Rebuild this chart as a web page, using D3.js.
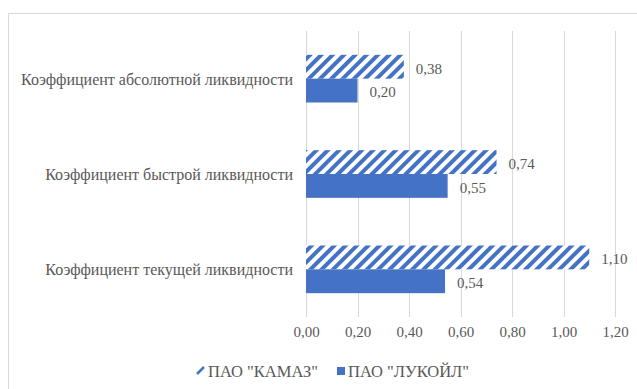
<!DOCTYPE html>
<html>
<head>
<meta charset="utf-8">
<script src="https://cdn.jsdelivr.net/npm/d3@7"></script>
<style>
  body { margin: 0; background: #fff; }
</style>
</head>
<body>
<svg id="chart" width="637" height="389"></svg>
<script>
// categories top to bottom
const categories = [
  'Коэффициент абсолютной ликвидности',
  'Коэффициент быстрой ликвидности',
  'Коэффициент текущей ликвидности'
];
const seriesNames = ['ПАО "КАМАЗ"', 'ПАО "ЛУКОЙЛ"'];
const kamaz = [0.38, 0.74, 1.10];
const lukoil = [0.20, 0.55, 0.54];
const xTicks = [0, 0.2, 0.4, 0.6, 0.8, 1.0, 1.2];

const blue = '#4472c4';
const textColor = '#595959';
const font = '"Liberation Serif"';
const fmt = v => d3.format('.2f')(v).replace('.', ',');

const svg = d3.select('#chart');

// hatch pattern for KAMAZ
const defs = svg.append('defs');
const pat = defs.append('pattern')
  .attr('id', 'hatch')
  .attr('patternUnits', 'userSpaceOnUse')
  .attr('width', 8)
  .attr('height', 8)
  .attr('patternTransform', 'rotate(45)');
pat.append('rect').attr('width', 8).attr('height', 8).attr('fill', '#fff');
pat.append('rect').attr('width', 4).attr('height', 8).attr('fill', blue);

// chart area border (only top and left visible)
svg.append('rect')
  .attr('x', 8.5).attr('y', 13.5)
  .attr('width', 700).attr('height', 500)
  .attr('fill', 'none')
  .attr('stroke', '#d9d9d9');

const plot = { left: 306, right: 615, top: 31, bottom: 317 };

const x = d3.scaleLinear()
  .domain([0, 1.2])
  .range([plot.left, plot.right]);

const y = d3.scaleBand()
  .domain(categories)
  .range([plot.top, plot.bottom])
  .paddingInner(0.5)
  .paddingOuter(0.25);

const ySub = d3.scaleBand()
  .domain(seriesNames)
  .range([0, y.bandwidth()]);

// gridlines
svg.append('g')
  .selectAll('line')
  .data(xTicks)
  .join('line')
  .attr('x1', d => Math.round(x(d)) + 0.5)
  .attr('x2', d => Math.round(x(d)) + 0.5)
  .attr('y1', plot.top)
  .attr('y2', plot.bottom)
  .attr('stroke', '#d9d9d9')
  .attr('stroke-width', 1);

// x axis labels
const xAxis = d3.axisBottom(x)
  .tickValues(xTicks)
  .tickFormat(fmt)
  .tickSize(0)
  .tickPadding(9);
const gx = svg.append('g')
  .attr('transform', `translate(0, ${plot.bottom})`)
  .call(xAxis);
gx.select('.domain').remove();
gx.selectAll('text')
  .attr('fill', textColor)
  .style('font-family', font)
  .style('font-size', '15px');

// y axis labels
const yAxis = d3.axisLeft(y).tickSize(0).tickPadding(13);
const gy = svg.append('g')
  .attr('transform', `translate(${plot.left}, 1)`)
  .call(yAxis);
gy.select('.domain').remove();
gy.selectAll('text')
  .attr('fill', textColor)
  .style('font-family', font)
  .style('font-size', '16px');

const series = [
  { name: seriesNames[0], values: kamaz, fill: 'url(#hatch)' },
  { name: seriesNames[1], values: lukoil, fill: blue }
];

series.forEach(s => {
  const g = svg.append('g');
  g.selectAll('rect')
    .data(categories)
    .join('rect')
    .attr('x', x(0))
    .attr('y', (c) => y(c) + ySub(s.name))
    .attr('width', (c, i) => x(s.values[i]) - x(0))
    .attr('height', ySub.bandwidth())
    .attr('fill', s.fill);

  g.selectAll('text')
    .data(categories)
    .join('text')
    .attr('x', (c, i) => x(s.values[i]) + 12)
    .attr('y', (c) => y(c) + ySub(s.name) + ySub.bandwidth() / 2 + 2)
    .attr('dy', '0.32em')
    .attr('fill', textColor)
    .style('font-family', font)
    .style('font-size', '15px')
    .text((c, i) => fmt(s.values[i]));
});

// legend
const legend = svg.append('g').attr('transform', 'translate(0, 371)');
const legendItems = [
  { name: seriesNames[0], x: 197, hatch: true },
  { name: seriesNames[1], x: 337, hatch: false }
];
legendItems.forEach(d => {
  if (d.hatch) {
    legend.append('line')
      .attr('x1', d.x).attr('y1', 3)
      .attr('x2', d.x + 7).attr('y2', -4)
      .attr('stroke', blue)
      .attr('stroke-width', 2.5);
  } else {
    legend.append('rect')
      .attr('x', d.x).attr('y', -4)
      .attr('width', 8).attr('height', 8)
      .attr('fill', blue);
  }
  legend.append('text')
    .attr('x', d.x + 11)
    .attr('y', 0)
    .attr('dy', '0.35em')
    .attr('fill', textColor)
    .style('font-family', font)
    .style('font-size', '16.5px')
    .text(d.name);
});
</script>
</body>
</html>
